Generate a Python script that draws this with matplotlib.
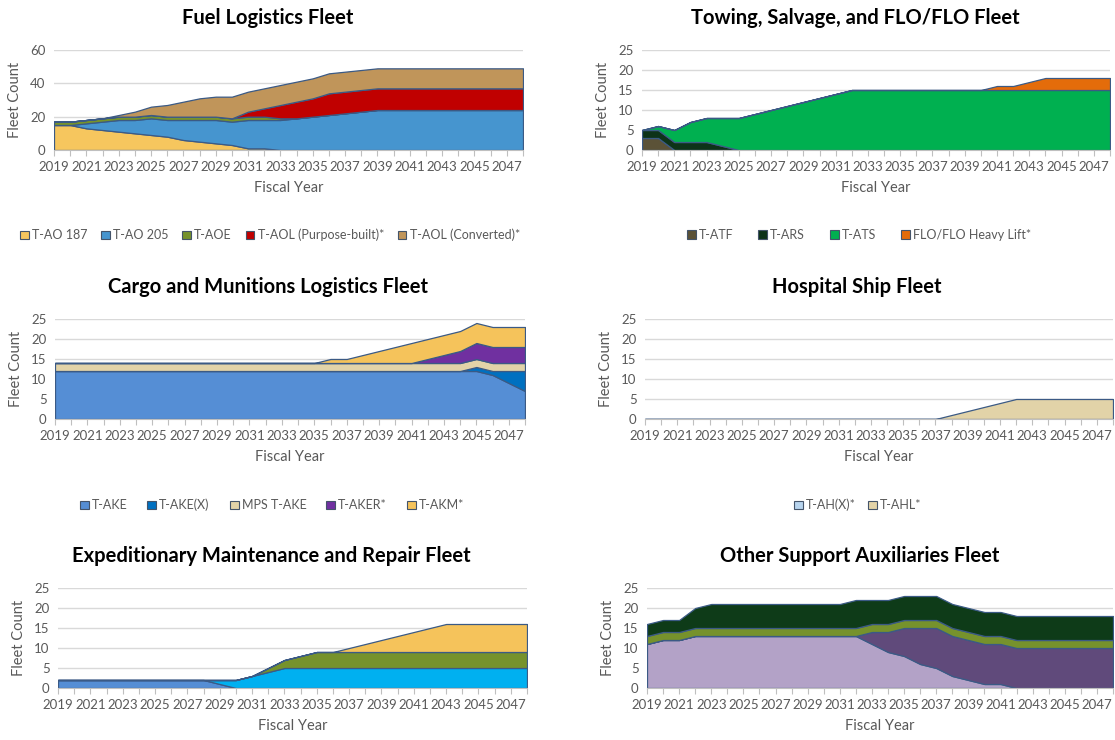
import numpy as np
import matplotlib
matplotlib.use('Agg')
import matplotlib.pyplot as plt
from matplotlib.patches import Patch

plt.rcParams['font.family'] = ['Lato', 'DejaVu Sans']

W, H = 1115, 740
GRAY = '#595959'
EDGE = '#3b5a85'

years = list(range(2019, 2049))

# Fuel logistics
fuel_names = ['T-AO 187', 'T-AO 205', 'T-AOE', 'T-AOL (Purpose-built)*', 'T-AOL (Converted)*']
ao187 = [15, 15, 13, 12, 11, 10, 9, 8, 6, 5, 4, 3, 1, 1, 0] + [0] * 15
ao205 = [0, 0, 3, 5, 7, 8, 10, 10, 12, 13, 14, 14, 17, 17, 18, 19, 20, 21, 22, 23] + [24] * 10
aoe = [2] * 14 + [1] + [0] * 15
aol_new = [0] * 12 + [3, 5, 8, 10, 11, 13, 13, 13, 13] + [13] * 9
aol_conv = [0, 0, 0, 0, 1, 3, 5, 7, 9, 11, 12, 13] + [12] * 18
fuel_colors = ['#f6c65e', '#4695cf', '#76922c', '#c00000', '#c0955a']

# Towing, salvage, FLO/FLO
tow_names = ['T-ATF', 'T-ARS', 'T-ATS', 'FLO/FLO Heavy Lift*']
atf = [3, 3] + [0] * 28
ars = [2, 2, 2, 2, 2, 1] + [0] * 24
ats = [0, 1, 3, 5, 6, 7, 8, 9, 10, 11, 12, 13, 14] + [15] * 17
flo = [0] * 22 + [1, 1, 2, 3, 3, 3, 3, 3]
tow_colors = ['#5b5237', '#0d3318', '#00b050', '#e46c0a']

# Cargo and munitions
cargo_names = ['T-AKE', 'T-AKE(X)', 'MPS T-AKE', 'T-AKER*', 'T-AKM*']
ake = [12] * 27 + [11, 9, 7]
akex = [0] * 26 + [1, 1, 3, 5]
mps = [2] * 30
aker = [0] * 23 + [1, 2, 3, 4, 4, 4, 4]
akm = [0] * 17 + [1, 1, 2, 3, 4, 5, 5, 5, 5, 5, 5, 5, 5]
cargo_colors = ['#558ed5', '#0070c0', '#e2d3a8', '#7030a0', '#f5c35b']

# Hospital ships
hosp_names = ['T-AH(X)*', 'T-AHL*']
ahx = [0] * 30
ahl = [0] * 19 + [1, 2, 3, 4] + [5] * 7
hosp_colors = ['#b7d4ee', '#e2d3a8']

# Expeditionary maintenance and repair
emr_a = [2] * 10 + [1, 0] + [0] * 18
emr_b = [0] * 10 + [1, 2, 3, 4] + [5] * 16
emr_c = [0] * 13 + [1, 2, 3] + [4] * 14
emr_d = [0] * 18 + [1, 2, 3, 4, 5, 6, 7] + [7] * 5
emr_colors = ['#558ed5', '#00b0f0', '#76922c', '#f5c35b']

# Other support auxiliaries
osa_a = [11, 12, 12] + [13] * 11 + [11, 9, 8, 6, 5, 3, 2, 1, 1] + [0] * 7
osa_b = [0] * 14 + [3, 5, 7, 9, 10] + [10] * 11
osa_c = [2] * 30
osa_d = [3, 3, 3, 5] + [6] * 9 + [7] + [6] * 16
osa_colors = ['#b3a2c7', '#604a7b', '#76922c', '#0e3b18']


def make_ax(fig, l, t, r, b, ymax, ystep):
    ax = fig.add_axes([l / W, 1 - b / H, (r - l) / W, (b - t) / H])
    ax.set_xlim(2019, 2048)
    ax.set_ylim(0, ymax)
    ax.set_yticks(np.arange(0, ymax + 1, ystep))
    ax.set_xticks(years)
    ax.set_xticklabels([str(y) if (y - 2019) % 2 == 0 else '' for y in years])
    ax.grid(axis='y', color='#d9d9d9', linewidth=1)
    ax.set_axisbelow(True)
    for s in ['left', 'right', 'top']:
        ax.spines[s].set_visible(False)
    ax.spines['bottom'].set_color('#bfbfbf')
    ax.tick_params(axis='y', length=0, labelsize=9.5, labelcolor=GRAY, pad=6)
    ax.tick_params(axis='x', length=4, color='#bfbfbf', labelsize=9.5,
                   labelcolor=GRAY, pad=4)
    ax.set_ylabel('Fleet Count', fontsize=10.5, color=GRAY, labelpad=6)
    ax.set_xlabel('Fiscal Year', fontsize=10.5, color=GRAY, labelpad=6)
    return ax


def stack(ax, series, colors):
    ax.stackplot(years, *series, colors=colors, edgecolor=EDGE, linewidth=0.9)


def title(fig, x, y, text):
    fig.text(x / W, 1 - y / H, text, ha='center', va='center',
             fontsize=14.5, fontweight='bold', color='black')


def legend(fig, x, y, names, colors, gap=1.0):
    handles = [Patch(facecolor=c, edgecolor='#44546a', linewidth=0.8) for c in colors]
    fig.legend(handles, names, loc='center', bbox_to_anchor=(x / W, 1 - y / H),
               ncol=len(names), frameon=False, fontsize=9, labelcolor=GRAY,
               handlelength=0.7, handleheight=0.7, handletextpad=0.25,
               columnspacing=gap)


fig = plt.figure(figsize=(W / 100, H / 100), dpi=100)

ax1 = make_ax(fig, 54, 50, 523, 150, 60, 20)
stack(ax1, [ao187, ao205, aoe, aol_new, aol_conv], fuel_colors)
title(fig, 268, 18, 'Fuel Logistics Fleet')
legend(fig, 270, 235, fuel_names, fuel_colors, gap=1.1)

ax2 = make_ax(fig, 642, 50, 1110, 150, 25, 5)
stack(ax2, [atf, ars, ats, flo], tow_colors)
title(fig, 855, 18, 'Towing, Salvage, and FLO/FLO Fleet')
legend(fig, 859, 235, tow_names, tow_colors, gap=2.0)

ax3 = make_ax(fig, 55, 319, 525, 419, 25, 5)
stack(ax3, [ake, akex, mps, aker, akm], cargo_colors)
title(fig, 268, 287, 'Cargo and Munitions Logistics Fleet')
legend(fig, 272, 505, cargo_names, cargo_colors, gap=1.6)

ax4 = make_ax(fig, 645, 319, 1113, 419, 25, 5)
stack(ax4, [ahx, ahl], hosp_colors)
title(fig, 857, 287, 'Hospital Ship Fleet')
legend(fig, 858, 505, hosp_names, hosp_colors)

ax5 = make_ax(fig, 58, 588, 527, 688, 25, 5)
stack(ax5, [emr_a, emr_b, emr_c, emr_d], emr_colors)
title(fig, 271, 556, 'Expeditionary Maintenance and Repair Fleet')

ax6 = make_ax(fig, 647, 588, 1113, 688, 25, 5)
stack(ax6, [osa_a, osa_b, osa_c, osa_d], osa_colors)
title(fig, 860, 556, 'Other Support Auxiliaries Fleet')

fig.savefig('out.png', dpi=100)
